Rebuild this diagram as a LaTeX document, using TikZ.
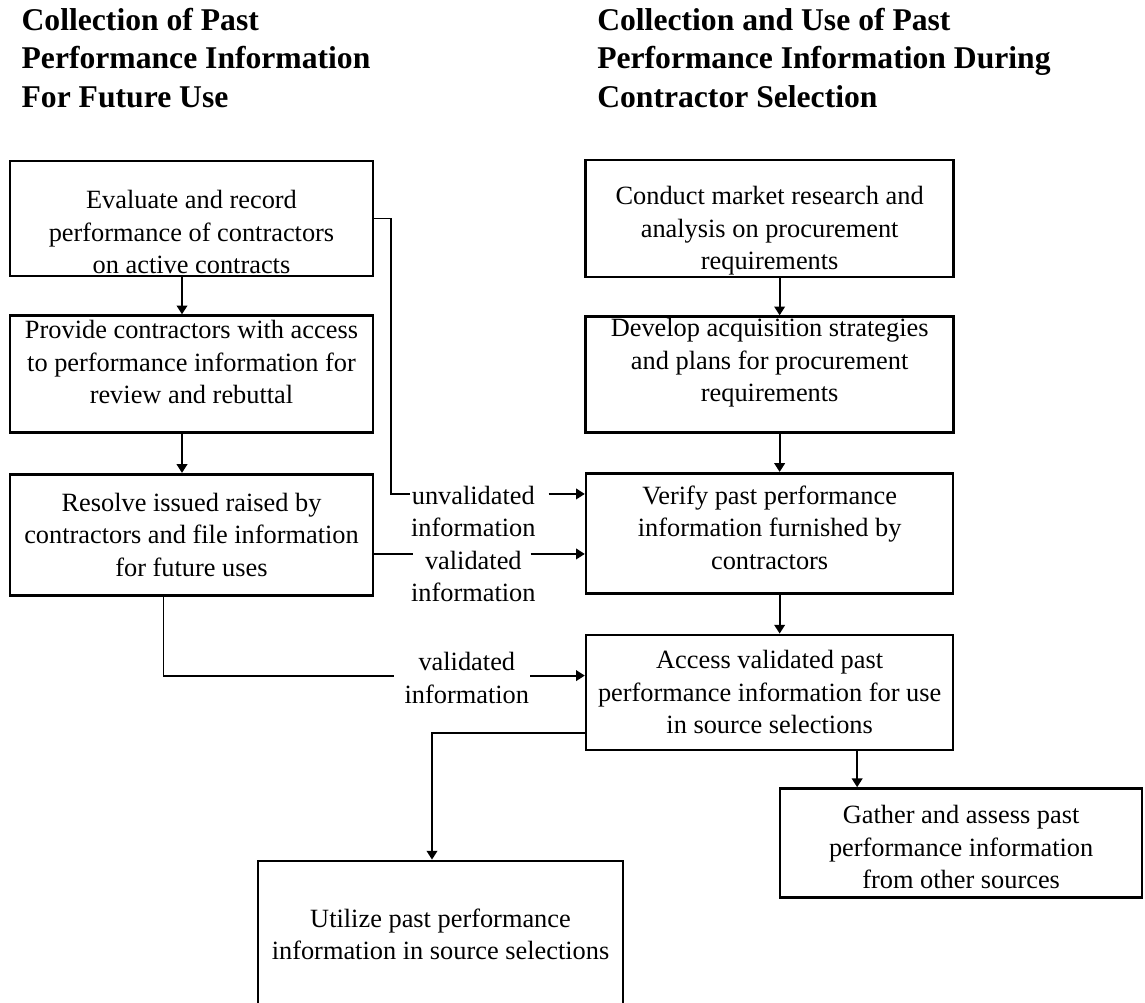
\documentclass[tikz,border=0pt]{standalone}
\usepackage{fontspec}
\setmainfont{Liberation Serif}
\usepackage{tikz}
\usetikzlibrary{calc,positioning,arrows.meta}

\newcommand{\topgap}[1]{\rule{0pt}{#1}}
\newcommand{\bottomgap}[1]{\rule[-#1]{0pt}{#1}}

\begin{document}
\begin{tikzpicture}[align=center, line width=1.1pt, >={Triangle[width=6pt,length=5pt]},
    task/.style={draw, line width=1.5pt, inner sep=0pt, minimum width=7.26cm, font=\fontsize{15}{18.5}\selectfont},
    flow/.style={inner sep=0pt, font=\fontsize{15}{18.5}\selectfont},
    heading/.style={inner sep=0pt, align=left, font=\fontsize{18}{22}\selectfont\bfseries}]

    \useasboundingbox (0,0) rectangle (22.9,-20.04);

    \node [task, minimum height=2.3cm] (evaluate) at (3.83,-4.37) {\topgap{0.92cm}Evaluate and record\\performance of contractors\\on active contracts};
    \node [task, below=0.74cm of evaluate, minimum height=2.34cm] (provide) {Provide contractors with access\\to performance information for\\review and rebuttal\bottomgap{0.48cm}};
    \node [task, below=0.78cm of provide, minimum height=2.42cm] (resolve) {Resolve issued raised by\\contractors and file information\\for future uses};

    \node [task, right=4.2cm of evaluate, minimum height=2.34cm, minimum width=7.36cm] (conduct) {\topgap{0.86cm}Conduct market research and\\analysis on procurement\\requirements};
    \node [task, below=0.74cm of conduct, minimum height=2.32cm, minimum width=7.36cm] (develop) {Develop acquisition strategies\\and plans for procurement\\requirements\bottomgap{0.59cm}};
    \node [task, below=0.76cm of develop, minimum height=2.4cm, minimum width=7.34cm] (verify) {Verify past performance\\information furnished by\\contractors\bottomgap{0.24cm}};
    \node [task, below=0.78cm of verify, minimum height=2.3cm, minimum width=7.34cm] (access) {Access validated past\\performance information for use\\in source selections};

    \node [task, below right=0.72cm and 3.88cm of access.south west, minimum height=2.18cm, minimum width=7.24cm] (gather) {\topgap{0.54cm}Gather and assess past\\performance information\\from other sources};
    \node [task, below right=5.26cm and 4.96cm of resolve.south west, minimum height=2.94cm, minimum width=7.3cm] (utilize) {Utilize past performance\\information in source selections};

    \node [heading, above right=1.02cm and 0.24cm of evaluate.north west] (collecttitle) {Collection of Past\\Performance Information\\For Future Use};
    \node [heading, above right=1.0cm and 0.24cm of conduct.north west] (usetitle) {Collection and Use of Past\\Performance Information During\\Contractor Selection};

    % labels between the columns
    \node [flow, anchor=north] (unvalid) at ($(verify.north west)+(-2.23,-0.26)$) {unvalidated\\information};
    \node [flow, anchor=north] (valid) at ($(verify.north west)+(-2.23,-1.56)$) {validated\\information};
    \node [flow, anchor=north] (validsel) at ($(access.north west)+(-2.36,-0.36)$) {validated\\information};

    \coordinate (unvalidin) at ($(verify.north west)+(0,-0.44)$);
    \coordinate (validin) at ($(verify.north west)+(0,-1.64)$);
    \coordinate (accessin) at ($(access.north west)+(0,-0.84)$);
    \coordinate (selectout) at ($(access.south west)+(0,0.36)$);
    \coordinate (gatherin) at ($(gather.north)+(-2.08,0)$);

    \draw[->] ([xshift=-0.19cm]evaluate.south) -- ([xshift=-0.19cm]provide.north);
    \draw[->] ([xshift=-0.19cm]provide.south) -- ([xshift=-0.19cm]resolve.north);
    \draw[->] ([xshift=0.2cm]conduct.south) -- ([xshift=0.2cm]develop.north);
    \draw[->] ([xshift=0.2cm]develop.south) -- ([xshift=0.2cm]verify.north);
    \draw[->] ([xshift=0.2cm]verify.south) -- ([xshift=0.2cm]access.north);

    \draw (evaluate.east) -| ($(unvalid.west |- unvalidin)+(-0.38,0)$) -- (unvalid.west |- unvalidin);
    \draw[->] ($(unvalid.east |- unvalidin)+(0.24,0)$) -- (unvalidin);
    \draw (resolve.east |- validin) -- ($(valid.west |- validin)+(0.06,0)$);
    \draw[->] ($(valid.east |- validin)+(-0.12,0)$) -- (validin);
    \draw ($(resolve.south)+(-0.56,0)$) |- ($(validsel.west |- accessin)+(-0.2,0)$);
    \draw[->] (validsel.east |- accessin) -- (accessin);
    \draw[->] (selectout) -| ($(utilize.north)+(-0.17,0)$);
    \draw[->] (gatherin |- access.south) -- (gatherin);

\end{tikzpicture}
\end{document}
